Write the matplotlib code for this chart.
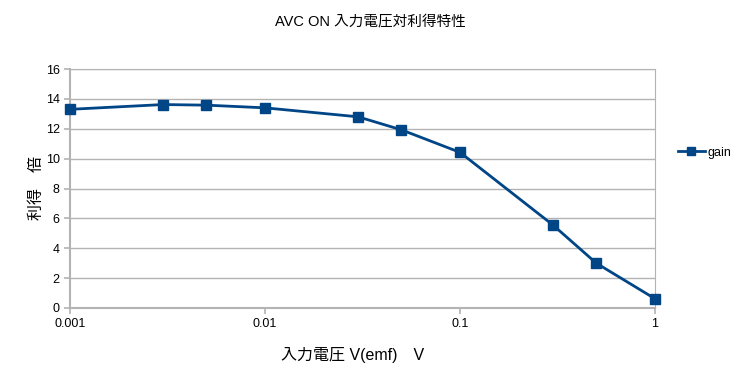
import matplotlib
matplotlib.use("Agg")
import matplotlib.pyplot as plt
from matplotlib.ticker import FixedLocator, FixedFormatter, NullLocator

plt.rcParams['font.family'] = ['Liberation Sans', 'Noto Sans CJK JP', 'DejaVu Sans']

# input voltage (V emf) vs gain
volts = [0.001, 0.003, 0.005, 0.01, 0.03, 0.05, 0.1, 0.3, 0.5, 1.0]
gain = [13.3, 13.62, 13.58, 13.4, 12.8, 11.93, 10.42, 5.55, 3.0, 0.62]
xticks = [0.001, 0.01, 0.1, 1]
xtick_labels = ["0.001", "0.01", "0.1", "1"]
yticks = [0, 2, 4, 6, 8, 10, 12, 14, 16]

fig = plt.figure(figsize=(7.41, 3.84), dpi=100)
ax = fig.add_axes([70/741, 1-308/384, 585/741, 239/384])

ax.plot(volts, gain, color='#004586', lw=2, marker='s', ms=7, label='gain', clip_on=False, zorder=5)
ax.set_xscale('log')
ax.set_xlim(0.001, 1)
ax.set_ylim(0, 16)
ax.xaxis.set_major_locator(FixedLocator(xticks))
ax.xaxis.set_major_formatter(FixedFormatter(xtick_labels))
ax.xaxis.set_minor_locator(NullLocator())
ax.set_yticks(yticks)

ax.grid(axis='y', color='#b3b3b3', lw=1)
ax.set_axisbelow(True)
for s in ax.spines.values():
    s.set_color('#b3b3b3')
ax.spines['left'].set_linewidth(1.5)
ax.spines['bottom'].set_linewidth(1.5)
ax.tick_params(axis='both', colors='#b3b3b3', labelcolor='black', labelsize=9,
               length=4, width=1.2, direction='out')

fig.text(0.5, 1-22/384, "AVC ON 入力電圧対利得特性", ha='center', va='center', fontsize=10.5)
fig.text(353/741, 1-355/384, "入力電圧 V(emf)\u3000V", ha='center', va='center', fontsize=11.5)
fig.text(36/741, 1-188/384, "利得\u3000倍", ha='center', va='center', fontsize=11.5, rotation=90)

ax.legend(loc='center left', bbox_to_anchor=(1.03, 0.65), frameon=False,
          fontsize=9, handlelength=2.2, handletextpad=0.2, borderaxespad=0,
          markerscale=0.85)

fig.savefig("out.png", dpi=100)
